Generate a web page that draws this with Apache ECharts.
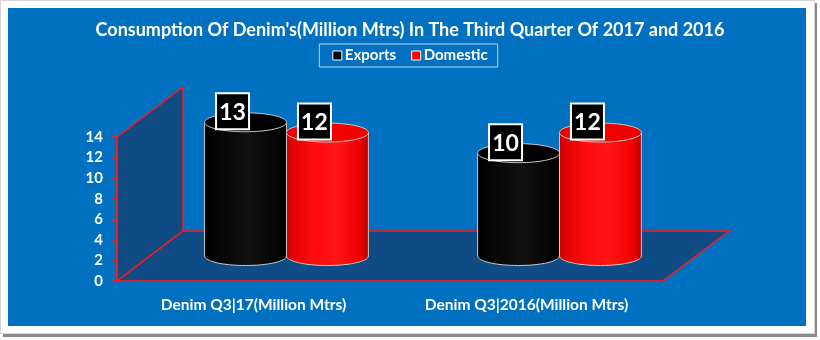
<!DOCTYPE html>
<html>
<head>
<meta charset="utf-8">
<script src="https://cdn.jsdelivr.net/npm/echarts@6/dist/echarts.min.js"></script>
<style>
  html, body { margin: 0; padding: 0; background: #ffffff; }
  #chart { width: 820px; height: 340px; }
</style>
</head>
<body>
<div id="chart"></div>
<script>
// Denim consumption, third quarter, million metres
const categories = ['Denim Q3|17(Million Mtrs)', 'Denim Q3|2016(Million Mtrs)'];
const seriesNames = ['Exports', 'Domestic'];
const exportsValues = [13, 10];
const domesticValues = [12, 12];
const valueMin = 0;
const valueMax = 14;
const valueStep = 2;

// Layout of the pseudo-3D plot box
const FONT = 'Lato, "Open Sans", sans-serif';
const FRONT = { left: 117, top: 137, width: 546, height: 144 };
const DEPTH_X = 66, DEPTH_Y = -50;
const MID = {
  left: FRONT.left + DEPTH_X / 2,
  top: FRONT.top + DEPTH_Y / 2,
  width: FRONT.width,
  height: FRONT.height
};
const RY = 9.5;            // vertical radius of the cylinder caps
const BAR_FRACTION = 0.3;  // share of a category band taken by one cylinder

const chart = echarts.init(document.getElementById('chart'), null, { renderer: 'canvas' });

function lin(stops) {
  return { type: 'linear', x: 0, y: 0, x2: 1, y2: 0, colorStops: stops };
}
const styles = {
  Exports: {
    body: lin([{ offset: 0, color: '#000000' }, { offset: 0.55, color: '#111111' }, { offset: 1, color: '#000000' }]),
    cap: '#000000'
  },
  Domestic: {
    body: lin([{ offset: 0, color: '#d40000' }, { offset: 0.3, color: '#ff0a0a' }, { offset: 0.6, color: '#ff1414' }, { offset: 0.9, color: '#ee0000' }, { offset: 1, color: '#b80000' }]),
    cap: '#f20000'
  }
};

// Floor and side wall of the plot box
function renderBox(params, api) {
  const cs = params.coordSys;
  const x = cs.x, y = cs.y, w = cs.width, h = cs.height;
  const boxStyle = { fill: '#0f4b84', stroke: '#ff1a1a', lineWidth: 1.5 };
  return {
    type: 'group',
    children: [
      {
        type: 'polygon',
        shape: { points: [[x, y + h], [x, y], [x + DEPTH_X, y + DEPTH_Y], [x + DEPTH_X, y + h + DEPTH_Y]] },
        style: boxStyle
      },
      {
        type: 'polygon',
        shape: { points: [[x, y + h], [x + DEPTH_X, y + h + DEPTH_Y], [x + w + DEPTH_X, y + h + DEPTH_Y], [x + w, y + h]] },
        style: boxStyle
      }
    ]
  };
}

// One cylinder with its value badge
function makeCylinderRenderer(name, side) {
  return function (params, api) {
    const cat = api.value(0);
    const val = api.value(1);
    const top = api.coord([cat, val]);
    const base = api.coord([cat, valueMin]);
    const band = api.size([1, 0])[0];
    const bw = band * BAR_FRACTION;
    const cx = top[0] + side * bw / 2;
    const x0 = cx - bw / 2, x1 = cx + bw / 2;
    const rx = bw / 2;
    const st = styles[name];
    const edge = { stroke: '#c9c9c9', lineWidth: 1 };
    const badgeW = 33, badgeH = 36;
    const bx = cx - 13 - badgeW / 2;
    const by = top[1] + 7 - badgeH;
    return {
      type: 'group',
      children: [
        { type: 'ellipse', shape: { cx: cx, cy: base[1], rx: rx, ry: RY }, style: Object.assign({ fill: st.body }, edge) },
        { type: 'rect', shape: { x: x0, y: top[1], width: bw, height: base[1] - top[1] }, style: { fill: st.body } },
        { type: 'line', shape: { x1: x0, y1: top[1], x2: x0, y2: base[1] }, style: edge },
        { type: 'line', shape: { x1: x1, y1: top[1], x2: x1, y2: base[1] }, style: edge },
        { type: 'ellipse', shape: { cx: cx, cy: top[1], rx: rx, ry: RY }, style: Object.assign({ fill: st.cap }, edge) },
        { type: 'rect', shape: { x: bx, y: by, width: badgeW, height: badgeH }, style: { fill: '#000000', stroke: '#ffffff', lineWidth: 2 } },
        {
          type: 'text',
          style: {
            x: bx + badgeW / 2, y: by + badgeH / 2 + 1,
            text: String(val),
            fill: '#ffffff',
            font: 'bold 23px ' + FONT,
            align: 'center', verticalAlign: 'middle'
          }
        }
      ]
    };
  };
}

const option = {
  animation: false,
  backgroundColor: '#ffffff',
  graphic: [
    { type: 'rect', z: -10, shape: { x: 3, y: 3, width: 814, height: 334 }, style: { fill: '#8a8a8a' } },
    { type: 'rect', z: -9, shape: { x: 0.5, y: 0.5, width: 814, height: 333 }, style: { fill: '#ffffff', stroke: '#d4d4d4', lineWidth: 1 } },
    { type: 'rect', z: -8, shape: { x: 8, y: 8, width: 798, height: 318 }, style: { fill: '#0070c0' } }
  ],
  title: {
    text: "Consumption Of Denim's(Million Mtrs) In The Third Quarter Of 2017 and 2016",
    left: 'center',
    top: 16,
    textStyle: { color: '#ffffff', fontFamily: FONT, fontWeight: 'bold', fontSize: 18 }
  },
  legend: {
    data: seriesNames,
    top: 44,
    left: 'center',
    padding: [4, 10, 4, 13],
    itemGap: 15,
    itemWidth: 9,
    itemHeight: 9,
    icon: 'rect',
    borderColor: '#b9d3ee',
    borderWidth: 1,
    itemStyle: { borderColor: '#ffffff', borderWidth: 1 },
    textStyle: { color: '#ffffff', fontFamily: FONT, fontWeight: 'bold', fontSize: 15, padding: [0, 0, 0, -2] }
  },
  grid: [
    { left: FRONT.left, top: FRONT.top, width: FRONT.width, height: FRONT.height },
    { left: MID.left, top: MID.top, width: MID.width, height: MID.height }
  ],
  xAxis: [
    {
      gridIndex: 0,
      type: 'category',
      data: categories,
      axisLine: { show: false },
      axisTick: { show: false },
      axisLabel: { color: '#ffffff', fontFamily: FONT, fontWeight: 'bold', fontSize: 15.5, margin: 16 }
    },
    { gridIndex: 1, type: 'category', data: categories, show: false }
  ],
  yAxis: [
    {
      gridIndex: 0,
      type: 'value',
      min: valueMin, max: valueMax, interval: valueStep,
      axisLine: { show: true, lineStyle: { color: '#ff1a1a', width: 1.5 } },
      axisTick: { show: true, length: 5, lineStyle: { color: '#ff1a1a', width: 1.5 } },
      splitLine: { show: false },
      axisLabel: { color: '#ffffff', fontFamily: FONT, fontWeight: 'bold', fontSize: 15, margin: 14 }
    },
    { gridIndex: 1, type: 'value', min: valueMin, max: valueMax, interval: valueStep, show: false }
  ],
  series: [
    {
      name: 'box',
      type: 'custom',
      xAxisIndex: 0, yAxisIndex: 0,
      z: 1,
      silent: true,
      renderItem: renderBox,
      data: [[0, 0]]
    },
    {
      name: 'Exports',
      type: 'custom',
      xAxisIndex: 1, yAxisIndex: 1,
      z: 3,
      itemStyle: { color: '#000000' },
      renderItem: makeCylinderRenderer('Exports', -1),
      data: exportsValues.map((v, i) => [i, v])
    },
    {
      name: 'Domestic',
      type: 'custom',
      xAxisIndex: 1, yAxisIndex: 1,
      z: 4,
      itemStyle: { color: '#ff0000' },
      renderItem: makeCylinderRenderer('Domestic', 1),
      data: domesticValues.map((v, i) => [i, v])
    }
  ]
};

chart.setOption(option);
</script>
</body>
</html>
